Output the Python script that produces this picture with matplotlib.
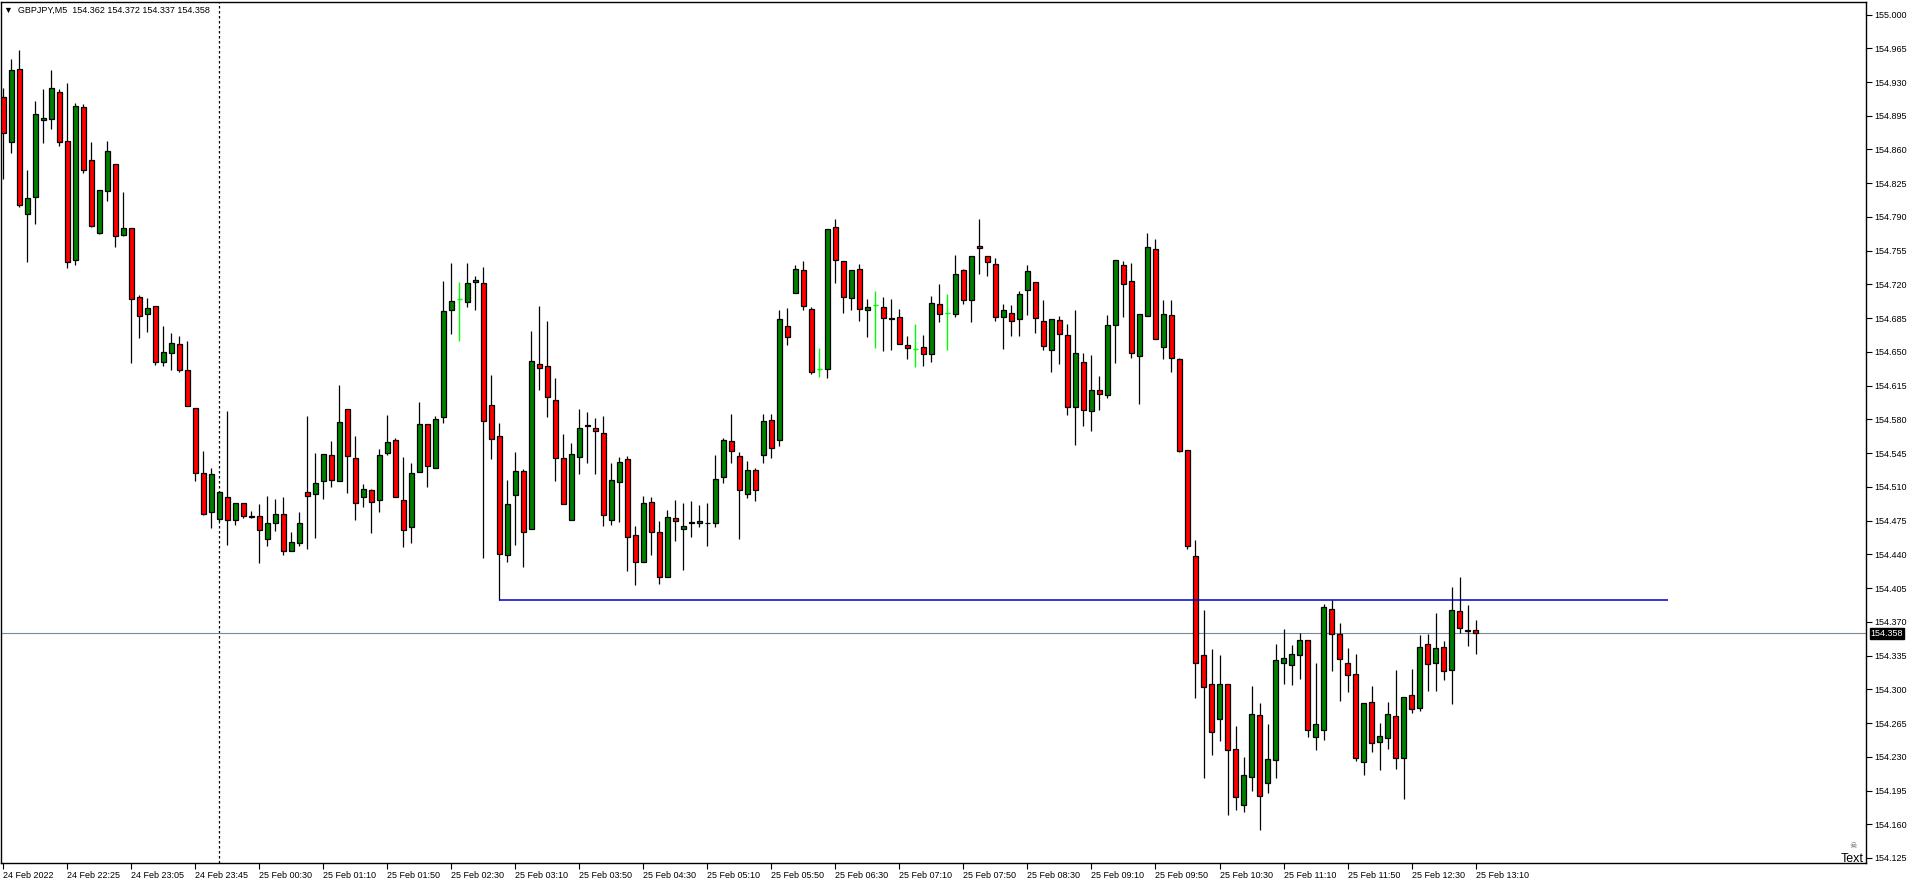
import matplotlib.pyplot as plt
import matplotlib.transforms as mtransforms
import numpy as np

# GBPJPY M5, one bar every 5 minutes from 24 Feb 21:45 to 25 Feb 13:10
opens = [
    154.914, 154.868, 154.943, 154.793, 154.811, 154.891, 154.892, 154.920, 154.869, 154.745,
    154.904, 154.849, 154.773, 154.817, 154.845, 154.771, 154.779, 154.707, 154.689, 154.698,
    154.640, 154.649, 154.658, 154.631, 154.592, 154.524, 154.484, 154.477, 154.500, 154.476,
    154.493, 154.480, 154.480, 154.456, 154.473, 154.482, 154.443, 154.452, 154.505, 154.503,
    154.516, 154.543, 154.516, 154.591, 154.540, 154.499, 154.507, 154.496, 154.545, 154.559,
    154.496, 154.468, 154.525, 154.575, 154.530, 154.582, 154.694, 154.705, 154.702, 154.723,
    154.722, 154.595, 154.563, 154.439, 154.502, 154.526, 154.466, 154.637, 154.635, 154.600,
    154.540, 154.476, 154.541, 154.574, 154.571, 154.566, 154.476, 154.515, 154.539, 154.460,
    154.432, 154.494, 154.463, 154.416, 154.478, 154.466, 154.472, 154.472, 154.473, 154.473,
    154.520, 154.558, 154.542, 154.503, 154.527, 154.543, 154.579, 154.559, 154.677, 154.711,
    154.735, 154.695, 154.632, 154.632, 154.780, 154.744, 154.706, 154.736, 154.694, 154.699,
    154.697, 154.685, 154.686, 154.657, 154.653, 154.655, 154.648, 154.700, 154.690, 154.689,
    154.735, 154.704, 154.760, 154.750, 154.741, 154.686, 154.690, 154.684, 154.714, 154.723,
    154.682, 154.652, 154.683, 154.668, 154.593, 154.640, 154.589, 154.611, 154.605, 154.678,
    154.740, 154.724, 154.646, 154.687, 154.757, 154.655, 154.688, 154.643, 154.548, 154.438,
    154.336, 154.306, 154.269, 154.305, 154.238, 154.180, 154.209, 154.273, 154.203, 154.227,
    154.327, 154.325, 154.336, 154.351, 154.250, 154.258, 154.383, 154.357, 154.327, 154.316,
    154.225, 154.287, 154.245, 154.249, 154.272, 154.229, 154.294, 154.281, 154.347, 154.327,
    154.344, 154.320, 154.381, 154.362, 154.362,
]
highs = [
    154.924, 154.954, 154.963, 154.839, 154.910, 154.923, 154.942, 154.923, 154.929, 154.908,
    154.907, 154.868, 154.818, 154.869, 154.845, 154.816, 154.779, 154.709, 154.706, 154.698,
    154.677, 154.670, 154.667, 154.661, 154.592, 154.547, 154.530, 154.506, 154.589, 154.493,
    154.493, 154.485, 154.492, 154.501, 154.497, 154.500, 154.463, 154.484, 154.584, 154.545,
    154.544, 154.558, 154.616, 154.591, 154.563, 154.513, 154.508, 154.549, 154.585, 154.561,
    154.541, 154.535, 154.598, 154.575, 154.584, 154.724, 154.742, 154.723, 154.742, 154.729,
    154.738, 154.626, 154.576, 154.517, 154.546, 154.529, 154.672, 154.698, 154.682, 154.623,
    154.565, 154.555, 154.591, 154.588, 154.581, 154.583, 154.535, 154.541, 154.542, 154.469,
    154.501, 154.499, 154.475, 154.486, 154.496, 154.493, 154.495, 154.491, 154.493, 154.543,
    154.561, 154.586, 154.546, 154.537, 154.530, 154.586, 154.586, 154.694, 154.696, 154.740,
    154.744, 154.697, 154.654, 154.778, 154.788, 154.744, 154.735, 154.741, 154.705, 154.713,
    154.707, 154.705, 154.695, 154.666, 154.679, 154.668, 154.708, 154.720, 154.710, 154.751,
    154.736, 154.749, 154.788, 154.750, 154.747, 154.700, 154.699, 154.713, 154.740, 154.723,
    154.704, 154.684, 154.687, 154.679, 154.694, 154.649, 154.647, 154.625, 154.688, 154.745,
    154.744, 154.742, 154.689, 154.773, 154.767, 154.704, 154.704, 154.644, 154.548, 154.455,
    154.382, 154.342, 154.336, 154.305, 154.262, 154.230, 154.303, 154.286, 154.264, 154.347,
    154.363, 154.346, 154.358, 154.351, 154.327, 154.388, 154.393, 154.369, 154.343, 154.337,
    154.286, 154.303, 154.265, 154.287, 154.320, 154.292, 154.321, 154.356, 154.357, 154.379,
    154.350, 154.406, 154.417, 154.387, 154.372,
]
lows = [
    154.829, 154.856, 154.800, 154.743, 154.783, 154.867, 154.881, 154.864, 154.737, 154.740,
    154.836, 154.780, 154.772, 154.807, 154.759, 154.770, 154.638, 154.664, 154.671, 154.636,
    154.635, 154.631, 154.629, 154.594, 154.516, 154.481, 154.467, 154.475, 154.450, 154.470,
    154.478, 154.478, 154.431, 154.449, 154.464, 154.439, 154.443, 154.449, 154.446, 154.457,
    154.497, 154.510, 154.516, 154.504, 154.476, 154.489, 154.462, 154.484, 154.543, 154.500,
    154.448, 154.452, 154.525, 154.510, 154.530, 154.576, 154.669, 154.661, 154.697, 154.694,
    154.436, 154.539, 154.393, 154.432, 154.450, 154.427, 154.466, 154.610, 154.582, 154.516,
    154.492, 154.476, 154.523, 154.535, 154.523, 154.469, 154.470, 154.474, 154.423, 154.408,
    154.432, 154.439, 154.409, 154.416, 154.454, 154.424, 154.458, 154.468, 154.449, 154.468,
    154.514, 154.535, 154.456, 154.498, 154.495, 154.535, 154.540, 154.552, 154.657, 154.711,
    154.693, 154.627, 154.624, 154.623, 154.722, 154.690, 154.694, 154.682, 154.665, 154.654,
    154.651, 154.652, 154.658, 154.643, 154.634, 154.635, 154.640, 154.681, 154.652, 154.686,
    154.700, 154.681, 154.731, 154.729, 154.682, 154.653, 154.666, 154.666, 154.688, 154.670,
    154.652, 154.629, 154.637, 154.585, 154.553, 154.573, 154.568, 154.590, 154.602, 154.639,
    154.686, 154.644, 154.596, 154.687, 154.663, 154.643, 154.629, 154.546, 154.446, 154.291,
    154.208, 154.232, 154.246, 154.170, 154.175, 154.173, 154.194, 154.154, 154.192, 154.208,
    154.306, 154.304, 154.311, 154.251, 154.237, 154.247, 154.319, 154.288, 154.297, 154.226,
    154.211, 154.235, 154.216, 154.238, 154.217, 154.186, 154.275, 154.278, 154.298, 154.298,
    154.310, 154.285, 154.358, 154.345, 154.337,
]
closes = [
    154.877, 154.942, 154.802, 154.810, 154.897, 154.893, 154.924, 154.868, 154.743, 154.905,
    154.839, 154.781, 154.818, 154.858, 154.770, 154.779, 154.705, 154.687, 154.696, 154.640,
    154.650, 154.659, 154.631, 154.594, 154.524, 154.482, 154.523, 154.505, 154.476, 154.493,
    154.480, 154.479, 154.465, 154.473, 154.482, 154.443, 154.453, 154.473, 154.501, 154.514,
    154.544, 154.517, 154.577, 154.542, 154.493, 154.508, 154.494, 154.543, 154.557, 154.500,
    154.465, 154.524, 154.575, 154.532, 154.580, 154.692, 154.703, 154.705, 154.721, 154.725,
    154.578, 154.560, 154.440, 154.492, 154.526, 154.463, 154.641, 154.633, 154.603, 154.540,
    154.492, 154.544, 154.571, 154.573, 154.568, 154.481, 154.517, 154.536, 154.458, 154.432,
    154.493, 154.463, 154.417, 154.479, 154.475, 154.469, 154.474, 154.475, 154.472, 154.518,
    154.559, 154.547, 154.507, 154.528, 154.507, 154.578, 154.550, 154.684, 154.665, 154.736,
    154.698, 154.629, 154.632, 154.778, 154.745, 154.707, 154.735, 154.695, 154.697, 154.699,
    154.685, 154.684, 154.658, 154.654, 154.653, 154.648, 154.701, 154.689, 154.690, 154.731,
    154.704, 154.749, 154.758, 154.743, 154.686, 154.693, 154.682, 154.710, 154.734, 154.685,
    154.656, 154.684, 154.669, 154.593, 154.649, 154.590, 154.610, 154.606, 154.678, 154.745,
    154.720, 154.649, 154.689, 154.759, 154.663, 154.689, 154.644, 154.547, 154.449, 154.327,
    154.302, 154.256, 154.306, 154.237, 154.188, 154.211, 154.274, 154.189, 154.228, 154.330,
    154.332, 154.337, 154.351, 154.258, 154.264, 154.385, 154.357, 154.331, 154.315, 154.229,
    154.286, 154.244, 154.252, 154.274, 154.229, 154.292, 154.280, 154.344, 154.326, 154.343,
    154.319, 154.382, 154.364, 154.360, 154.358,
]

time_labels = [
    "24 Feb 2022", "24 Feb 22:25", "24 Feb 23:05", "24 Feb 23:45", "25 Feb 00:30",
    "25 Feb 01:10", "25 Feb 01:50", "25 Feb 02:30", "25 Feb 03:10", "25 Feb 03:50",
    "25 Feb 04:30", "25 Feb 05:10", "25 Feb 05:50", "25 Feb 06:30", "25 Feb 07:10",
    "25 Feb 07:50", "25 Feb 08:30", "25 Feb 09:10", "25 Feb 09:50", "25 Feb 10:30",
    "25 Feb 11:10", "25 Feb 11:50", "25 Feb 12:30", "25 Feb 13:10",
]
bars_per_label = 8

price_ticks = [
    155.000, 154.965, 154.930, 154.895, 154.860, 154.825, 154.790, 154.755, 154.720,
    154.685, 154.650, 154.615, 154.580, 154.545, 154.510, 154.475, 154.440, 154.405,
    154.370, 154.335, 154.300, 154.265, 154.230, 154.195, 154.160, 154.125,
]

bid_price = 154.358
level_price = 154.393
level_from_bar, level_to_bar = 62, 208
day_separator_bar = 27

o = np.array(opens)
h = np.array(highs)
l = np.array(lows)
c = np.array(closes)
x = np.arange(len(o))
up = c > o
down = c < o
flat = c == o

fig = plt.figure(figsize=(19.12, 8.85), dpi=100)
ax = fig.add_axes([1 / 1912, 22 / 885, 1865 / 1912, 861 / 885])
font = 'Liberation Sans'

# wicks, then bodies
ax.vlines(x[~flat], l[~flat], h[~flat], color='black', lw=0.9, zorder=2)
ax.bar(x[up], c[up] - o[up], bottom=o[up], width=0.55, color='#008000',
       edgecolor='black', linewidth=0.9, zorder=3)
ax.bar(x[down], o[down] - c[down], bottom=c[down], width=0.55, color='#ff0000',
       edgecolor='black', linewidth=0.9, zorder=3)
# open == close bars
ax.vlines(x[flat], l[flat], h[flat], color='#00ff00', lw=1.0, zorder=2)
ax.hlines(o[flat], x[flat] - 0.3, x[flat] + 0.3, color='#00ff00', lw=1.0, zorder=2)

ax.axvline(day_separator_bar, color='black', lw=0.9, ls=(0, (2, 2)), zorder=1)
ax.axhline(bid_price, color='#778899', lw=0.8, zorder=1)
ax.hlines(level_price, level_from_bar, level_to_bar, color='#0000cc', lw=1.1, zorder=4)

ax.set_xlim(-0.29, 232.8)
ax.set_ylim(154.1198, 155.013)

ax.yaxis.tick_right()
ax.set_yticks(price_ticks)
ax.set_yticklabels(['%.3f' % p for p in price_ticks], fontsize=6.5, family=font)
ax.tick_params(axis='y', direction='out', length=4, width=0.8, pad=2)

ax.set_xticks(np.arange(len(time_labels)) * bars_per_label)
ax.set_xticklabels(time_labels, fontsize=6.5, family=font, ha='left')
ax.tick_params(axis='x', direction='out', length=4, width=0.8, pad=2)

for s in ax.spines.values():
    s.set_linewidth(1.0)

# current price box on the price scale
trans = mtransforms.blended_transform_factory(ax.transAxes, ax.transData)
ax.text(1.0025, bid_price, '154.358', transform=trans, ha='left', va='center',
        fontsize=6.5, family=font, color='white',
        bbox=dict(boxstyle='square,pad=0.12', fc='black', ec='black'), zorder=5)

fig.text(4 / 1912, 1 - 10 / 885, '\u25bc  GBPJPY,M5  154.362 154.372 154.337 154.358',
         fontsize=6.5, family=[font, 'DejaVu Sans'], va='center', ha='left')
fig.text(1853 / 1912, 1 - 845 / 885, '\u2620', fontsize=6, color='#555555',
         ha='center', va='center', family='DejaVu Sans')
fig.text(1864 / 1912, 1 - 859 / 885, 'Text', fontsize=9, family=font,
         ha='right', va='center')

fig.savefig('out.png', dpi=100)
